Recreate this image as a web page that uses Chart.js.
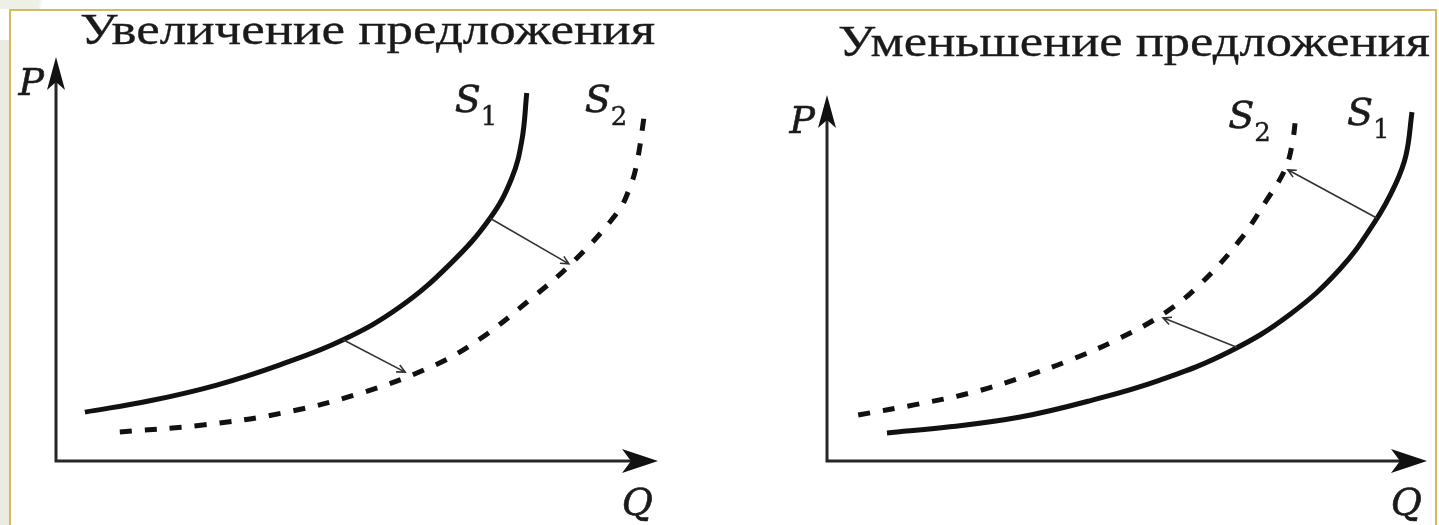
<!DOCTYPE html>
<html>
<head>
<meta charset="utf-8">
<script src="https://cdn.jsdelivr.net/npm/chart.js@4"></script>
<style>
  body { margin: 0; width: 1439px; height: 525px; position: relative; overflow: hidden; background: #fff; }
  .strip { position: absolute; left: 0; top: 40px; width: 9px; height: 485px; background: #eaece2; }
  .corner { position: absolute; left: 0; top: 0; width: 70px; height: 9px; background: linear-gradient(100deg, #eef0e6 0%, #eef0e6 55%, #fff 60%); }
  .frame { position: absolute; left: 9px; top: 9px; width: 1424px; height: 520px; border: 2px solid #d3bb5d; border-bottom: none; }
  canvas { position: absolute; top: 0; }
</style>
</head>
<body>
<div class="strip"></div>
<div class="corner"></div>
<div class="frame"></div>
<canvas id="left" width="720" height="525" style="left:0"></canvas>
<canvas id="right" width="719" height="525" style="left:720px"></canvas>
<script>
// Увеличение предложения (Q, P)
const leftS1Q = [0.48, 1.56, 2.67, 3.72, 4.77, 5.71, 6.55, 7.21, 7.57, 7.74, 7.82];
const leftS1P = [1.21, 1.49, 1.88, 2.38, 3.00, 3.81, 4.88, 6.01, 7.00, 7.95, 9.11];
const leftS2Q = [1.06, 2.44, 3.77, 5.02, 6.26, 7.04, 7.87, 8.59, 9.32, 9.53, 9.65, 9.78];
const leftS2P = [0.72, 0.89, 1.19, 1.66, 2.35, 3.02, 3.99, 4.93, 6.14, 6.76, 7.38, 8.64];
const leftShiftFromQ = [4.77, 7.21];
const leftShiftFromP = [3.00, 6.01];
const leftShiftToQ = [5.80, 8.52];
const leftShiftToP = [2.20, 4.88];

// Уменьшение предложения (Q, P)
const rightS1Q = [1.00, 2.05, 3.22, 4.38, 5.55, 6.72, 7.72, 8.55, 9.13, 9.47, 9.65, 9.75];
const rightS1P = [0.69, 0.84, 1.08, 1.48, 1.99, 2.70, 3.61, 4.72, 5.88, 6.79, 7.52, 8.58];
const rightS2Q = [0.52, 1.45, 2.38, 3.22, 4.05, 4.88, 5.63, 6.22, 6.88, 7.33, 7.63, 7.75, 7.82];
const rightS2P = [1.13, 1.38, 1.67, 2.04, 2.48, 3.02, 3.64, 4.35, 5.43, 6.42, 7.16, 7.77, 8.56];
const rightShiftFromQ = [6.83, 9.17];
const rightShiftFromP = [2.80, 5.97];
const rightShiftToQ = [5.60, 7.68];
const rightShiftToP = [3.52, 7.16];

const toPoints = (qs, ps) => qs.map((q, i) => ({ x: q, y: ps[i] }));

function curve(label, qs, ps, dashed) {
    return {
        label: label,
        data: toPoints(qs, ps),
        showLine: true,
        borderColor: '#111',
        borderWidth: 5,
        borderDash: dashed ? [12, 13] : [],
        pointRadius: 0,
        tension: 0.4,
        clip: false
    };
}

const TITLE_FONT = '"Liberation Serif", "DejaVu Serif", serif';
const MATH_FONT = '"DejaVu Serif", serif';

function heavyText(ctx, text, x, y, stroke) {
    if (stroke > 0) {
        ctx.lineWidth = stroke;
        ctx.strokeText(text, x, y);
    }
    ctx.fillText(text, x, y);
}

const supplyDecor = {
    id: 'supplyDecor',
    beforeDatasetsDraw(chart, args, opts) {
        const ctx = chart.ctx;
        const a = chart.chartArea;
        ctx.save();
        ctx.strokeStyle = '#262626';
        ctx.fillStyle = '#111';
        ctx.lineWidth = 3;
        ctx.beginPath();
        ctx.moveTo(a.left, a.top + 20);
        ctx.lineTo(a.left, a.bottom);
        ctx.lineTo(a.right - 25, a.bottom);
        ctx.stroke();
        // y arrow head
        ctx.beginPath();
        ctx.moveTo(a.left, a.top);
        ctx.lineTo(a.left + 9, a.top + 33);
        ctx.lineTo(a.left, a.top + 25);
        ctx.lineTo(a.left - 9, a.top + 33);
        ctx.closePath();
        ctx.fill();
        // x arrow head
        ctx.beginPath();
        ctx.moveTo(a.right, a.bottom);
        ctx.lineTo(a.right - 36, a.bottom - 12);
        ctx.lineTo(a.right - 27, a.bottom);
        ctx.lineTo(a.right - 36, a.bottom + 12);
        ctx.closePath();
        ctx.fill();

        // title, stretched to the width it has in the picture
        ctx.fillStyle = '#1a1a1a';
        ctx.strokeStyle = '#1a1a1a';
        ctx.textBaseline = 'alphabetic';
        ctx.textAlign = 'left';
        ctx.font = '45px ' + TITLE_FONT;
        const w = ctx.measureText(opts.title).width;
        ctx.save();
        ctx.translate(opts.titleX, opts.titleY);
        ctx.scale(opts.titleWidth / w, 1);
        heavyText(ctx, opts.title, 0, 0, 0.3);
        ctx.restore();

        ctx.font = 'italic 38px ' + MATH_FONT;
        ctx.textAlign = 'right';
        heavyText(ctx, 'P', a.left - 12, a.top + 38, 0.6);
        heavyText(ctx, 'Q', a.right - 5, a.bottom + 54, 0.6);
        ctx.restore();
    },
    afterDatasetsDraw(chart, args, opts) {
        const ctx = chart.ctx;
        const xs = chart.scales.x, ys = chart.scales.y;
        ctx.save();
        // shift arrows
        ctx.strokeStyle = '#333';
        ctx.lineWidth = 1.6;
        opts.shifts.fromQ.forEach((q, i) => {
            const x1 = xs.getPixelForValue(q), y1 = ys.getPixelForValue(opts.shifts.fromP[i]);
            const x2 = xs.getPixelForValue(opts.shifts.toQ[i]), y2 = ys.getPixelForValue(opts.shifts.toP[i]);
            const ang = Math.atan2(y2 - y1, x2 - x1);
            ctx.beginPath();
            ctx.moveTo(x1, y1);
            ctx.lineTo(x2, y2);
            ctx.moveTo(x2 - 9 * Math.cos(ang - 0.45), y2 - 9 * Math.sin(ang - 0.45));
            ctx.lineTo(x2, y2);
            ctx.lineTo(x2 - 9 * Math.cos(ang + 0.45), y2 - 9 * Math.sin(ang + 0.45));
            ctx.stroke();
        });
        // curve names next to the top of each curve
        ctx.fillStyle = '#1a1a1a';
        ctx.strokeStyle = '#1a1a1a';
        ctx.textAlign = 'left';
        chart.data.datasets.forEach((ds, i) => {
            const last = ds.data[ds.data.length - 1];
            const off = opts.nameOffsets[i];
            const x = xs.getPixelForValue(last.x) + off[0];
            const y = ys.getPixelForValue(last.y) + off[1];
            ctx.font = 'italic 38px ' + MATH_FONT;
            heavyText(ctx, ds.label[0], x, y, 0.6);
            const sw = ctx.measureText(ds.label[0]).width;
            ctx.font = '26px ' + MATH_FONT;
            heavyText(ctx, ds.label.slice(1), x + sw, y + 13, 0.4);
        });
        ctx.restore();
    }
};

function makeChart(id, datasets, yMax, padding, decor) {
    return new Chart(document.getElementById(id), {
        type: 'scatter',
        data: { datasets: datasets },
        options: {
            responsive: false,
            animation: false,
            layout: { padding: padding },
            scales: {
                x: { type: 'linear', min: 0, max: 10, display: false },
                y: { type: 'linear', min: 0, max: yMax, display: false }
            },
            plugins: {
                legend: { display: false },
                tooltip: { enabled: false },
                supplyDecor: decor
            }
        },
        plugins: [supplyDecor]
    });
}

makeChart('left', [
    curve('S1', leftS1Q, leftS1P, false),
    curve('S2', leftS2Q, leftS2P, true)
], 10, { left: 56, right: 62, top: 57, bottom: 64 }, {
    title: 'Увеличение предложения', titleX: 80, titleY: 44, titleWidth: 575,
    shifts: { fromQ: leftShiftFromQ, fromP: leftShiftFromP, toQ: leftShiftToQ, toP: leftShiftToP },
    nameOffsets: [[-72, 19], [-60, 0]]
});

makeChart('right', [
    curve('S1', rightS1Q, rightS1P, false),
    curve('S2', rightS2Q, rightS2P, true)
], 9, { left: 107, right: 12, top: 95, bottom: 64 }, {
    title: 'Уменьшение предложения', titleX: 118, titleY: 56, titleWidth: 592,
    shifts: { fromQ: rightShiftFromQ, fromP: rightShiftFromP, toQ: rightShiftToQ, toP: rightShiftToP },
    nameOffsets: [[-65, 13], [-68, 15]]
});
</script>
</body>
</html>
